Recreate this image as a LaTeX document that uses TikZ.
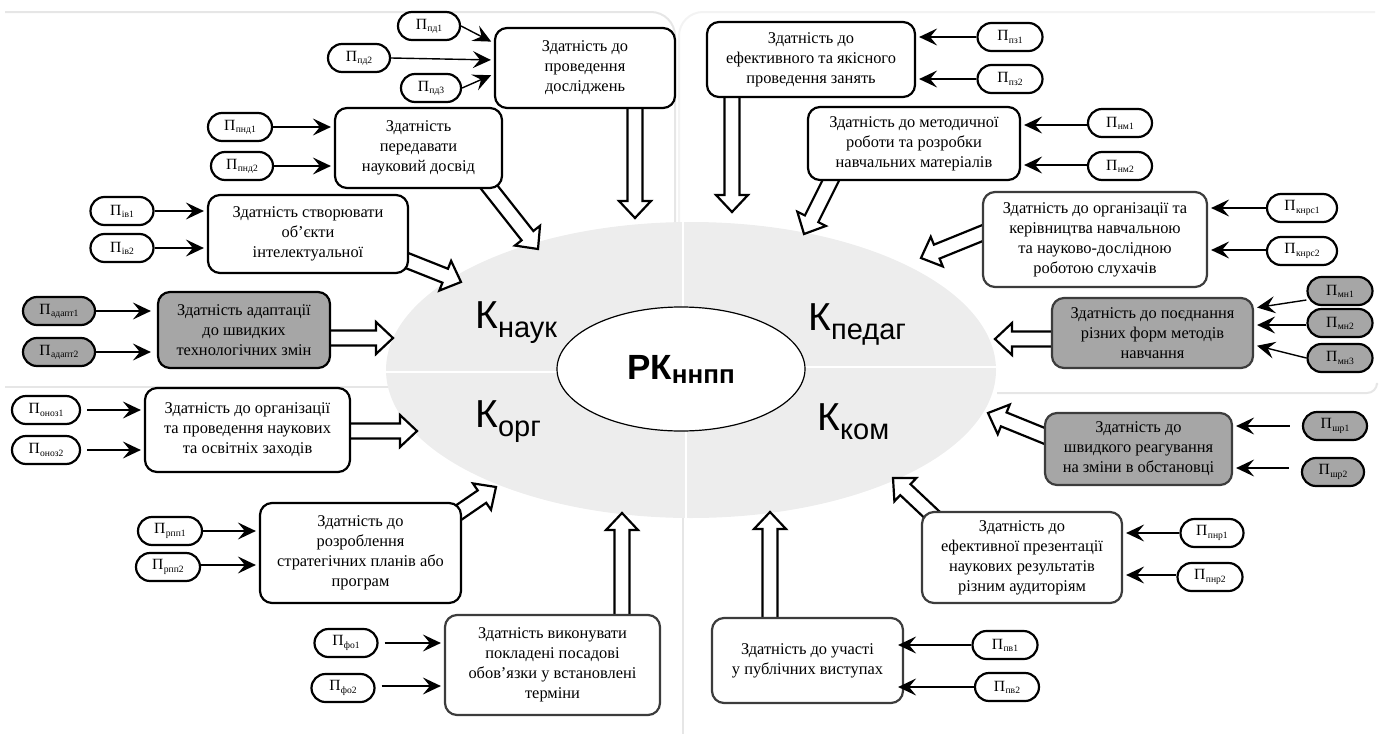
\documentclass[tikz,border=0pt]{standalone}
\usepackage{fontspec}
\setmainfont{Liberation Serif}
\newfontfamily\sansf{Liberation Sans}
\usetikzlibrary{shapes.geometric,arrows.meta,calc}
\pgfdeclarelayer{bglayer}
\pgfdeclarelayer{arrlayer}
\pgfsetlayers{bglayer,arrlayer,main}
\definecolor{boxgray}{RGB}{166,166,166}
\definecolor{ellgray}{RGB}{237,237,237}
\definecolor{framegray}{RGB}{230,230,230}
\definecolor{framegraylt}{RGB}{243,243,243}
\definecolor{darkborder}{RGB}{60,60,60}
\newcommand{\boxfont}{\fontsize{8.2}{10}\selectfont}
\newcommand{\pfont}{\fontsize{7.8}{8}\selectfont}
\newcommand{\Pl}[1]{П\kern0.2pt\raisebox{-1.1pt}{\fontsize{4.8}{5}\selectfont #1}}
\newcommand{\Kl}[1]{К\raisebox{-4.5pt}{\fontsize{14.5}{15}\selectfont #1}}
\newcommand{\hollow}[2]{%
  \coordinate (hb) at ($(#2)!8.5pt!(#1)$);
  \draw[harrow] ($(#1)!3.75pt!90:(#2)$) -- ($(hb)!3.75pt!90:(#2)$) -- ($(hb)!8pt!90:(#2)$) -- (#2)
     -- ($(hb)!8pt!-90:(#2)$) -- ($(hb)!3.75pt!-90:(#2)$) -- ($(#1)!3.75pt!-90:(#2)$);}
\tikzset{
  box/.style={draw, line width=1.1pt, rounded corners=6pt, fill=white, align=center, font=\boxfont, inner sep=0pt},
  gbox/.style={box, fill=boxgray},
  dbox/.style={box, draw=darkborder},
  pill/.style={draw, line width=1.1pt, rounded corners=7pt, fill=white, minimum height=14pt, inner sep=0pt, font=\pfont},
  gpill/.style={pill, fill=boxgray},
  thinarr/.style={line width=0.7pt, shorten >=1.5pt, -{Stealth[length=9pt,width=8.5pt,inset=3.5pt]}},
  harrow/.style={draw, line width=1.1pt, fill=white, line join=miter},
  frame/.style={draw=framegray, line width=1pt},
  klabel/.style={font=\sansf\fontsize{19.5}{20}\selectfont, inner sep=0pt, anchor=base west},
}
\begin{document}
\begin{tikzpicture}[x=0.5pt, y=-0.5pt]
\useasboundingbox (0,0) rectangle (1383,734);

% ---------- background ----------
\begin{pgfonlayer}{bglayer}
  \draw[frame, rounded corners=12pt] (5,12) -- (675,12) -- (675,222);
  \draw[draw=framegraylt, line width=1pt, rounded corners=12pt] (679,222) -- (679,12) -- (1375,12);
  \draw[frame] (5,387) -- (388,387);
  \draw[frame, rounded corners=5pt] (997,393) -- (1377,393) -- (1377,385);
  \draw[frame] (683,518) -- (683,734);
  \fill[ellgray] (691,370) ellipse [x radius=152.5pt, y radius=74pt];
  \begin{scope}
    \clip (691,370) ellipse [x radius=152.5pt, y radius=74pt];
    \draw[white, line width=1.2pt] (380,372) -- (684,372);
    \draw[white, line width=1.2pt] (684,367) -- (1000,367);
    \draw[white, line width=1.2pt] (683,215) -- (683,370);
    \draw[white, line width=1.2pt] (686,368) -- (686,525);
  \end{scope}
\end{pgfonlayer}

% ---------- centre ----------
\node[ellipse, draw, fill=white, line width=0.6pt, minimum width=124pt, minimum height=62pt, inner sep=0pt] (rk) at (681,369)
  {\sansf\bfseries\fontsize{17.5}{18}\selectfont РК\raisebox{-2pt}{\fontsize{13}{14}\selectfont ннпп}};
\node[klabel] (kn) at (475,328) {\Kl{наук}};
\node[klabel] (kp) at (808,330) {\Kl{педаг}};
\node[klabel] (ko) at (475,427) {\Kl{орг}};
\node[klabel] (kk) at (817,430) {\Kl{ком}};

% ---------- boxes ----------
\node[box, minimum width=90pt, minimum height=40pt] (b1) at (585,68) {Здатність до\\проведення\\досліджень};
\node[box, minimum width=83.5pt, minimum height=40pt] (b2) at (418.5,148) {Здатність\\передавати\\науковий досвід};
\node[box, minimum width=100pt, minimum height=39pt] (b3) at (308,234) {Здатність створювати\\об’єкти\\інтелектуальної};
\node[gbox, minimum width=86pt, minimum height=38pt] (b4) at (244,330) {Здатність адаптації\\до швидких\\технологічних змін};
\node[box, minimum width=102.5pt, minimum height=42pt] (b5) at (247.5,430) {Здатність до організації\\та проведення наукових\\та освітніх заходів};
\node[box, minimum width=100.5pt, minimum height=50pt] (b6) at (360.5,553) {Здатність до\\розроблення\\стратегічних планів або\\програм};
\node[dbox, minimum width=107.5pt, minimum height=50pt] (b7) at (552.5,665) {Здатність виконувати\\покладені посадові\\обов’язки у встановлені\\терміни};
\node[dbox, minimum width=95.5pt, minimum height=42.5pt] (b8) at (807.5,660.5) {Здатність до участі\\у публічних виступах};
\node[dbox, minimum width=100pt, minimum height=45.5pt] (b9) at (1022,557.5) {Здатність до\\ефективної презентації\\наукових результатів\\різним аудиторіям};
\node[gbox, draw=darkborder, minimum width=93.5pt, minimum height=36pt] (b10) at (1138.5,449) {Здатність до\\швидкого реагування\\на зміни в обстановці};
\node[gbox, draw=darkborder, minimum width=100.5pt, minimum height=35pt] (b11) at (1152.5,333) {Здатність до поєднання\\різних форм методів\\навчання};
\node[dbox, minimum width=112pt, minimum height=47.5pt] (b12) at (1095,239.5) {Здатність до організації та\\керівництва навчальною\\та науково-дослідною\\роботою слухачів};
\node[box, minimum width=106pt, minimum height=36.5pt] (b13) at (914,143.5) {Здатність до методичної\\роботи та розробки\\навчальних матеріалів};
\node[box, minimum width=104pt, minimum height=37.5pt] (b14) at (811,59.5) {Здатність до\\ефективного та якісного\\проведення занять};

% ---------- indicator pills ----------
\node[pill, minimum width=31pt] (pd1) at (429,26) {\Pl{пд1}};
\node[pill, minimum width=31pt] (pd2) at (359,58) {\Pl{пд2}};
\node[pill, minimum width=30pt] (pd3) at (431,88) {\Pl{пд3}};
\node[pill, minimum width=32pt] (pnd1) at (240,127) {\Pl{пнд1}};
\node[pill, minimum width=31pt] (pnd2) at (242,166) {\Pl{пнд2}};
\node[pill, minimum width=31.5pt] (iv1) at (122,211) {\Pl{ів1}};
\node[pill, minimum width=31.5pt] (iv2) at (122,248) {\Pl{ів2}};
\node[gpill, minimum width=36pt] (ad1) at (59,311) {\Pl{адапт1}};
\node[gpill, minimum width=36pt] (ad2) at (59,352) {\Pl{адапт2}};
\node[pill, minimum width=34pt] (on1) at (46,410) {\Pl{оноз1}};
\node[pill, minimum width=34pt] (on2) at (46,450) {\Pl{оноз2}};
\node[pill, minimum width=32pt] (rp1) at (170,531) {\Pl{рпп1}};
\node[pill, minimum width=32pt] (rp2) at (168,567) {\Pl{рпп2}};
\node[pill, minimum width=31.5pt] (fo1) at (346,643) {\Pl{фо1}};
\node[pill, minimum width=31.5pt] (fo2) at (343,688) {\Pl{фо2}};
\node[pill, minimum width=32.5pt] (pv1) at (1005,645) {\Pl{пв1}};
\node[pill, minimum width=32pt] (pv2) at (1007,687) {\Pl{пв2}};
\node[pill, minimum width=31.5pt] (pr1) at (1212,533) {\Pl{пнр1}};
\node[pill, minimum width=32.5pt] (pr2) at (1210,577) {\Pl{пнр2}};
\node[gpill, minimum width=32pt] (sr1) at (1335,426) {\Pl{шр1}};
\node[gpill, minimum width=31pt] (sr2) at (1333,472) {\Pl{шр2}};
\node[gpill, minimum width=32.5pt] (mn1) at (1340,291) {\Pl{мн1}};
\node[gpill, minimum width=32.5pt] (mn2) at (1340,323) {\Pl{мн2}};
\node[gpill, minimum width=32.5pt] (mn3) at (1340,358) {\Pl{мн3}};
\node[pill, minimum width=35pt] (kr1) at (1302,208) {\Pl{кнрс1}};
\node[pill, minimum width=35pt] (kr2) at (1302,251) {\Pl{кнрс2}};
\node[pill, minimum width=32pt] (nm1) at (1120,123) {\Pl{нм1}};
\node[pill, minimum width=32pt] (nm2) at (1120,166) {\Pl{нм2}};
\node[pill, minimum width=32.5pt] (pz1) at (1010,37) {\Pl{пз1}};
\node[pill, minimum width=32.5pt] (pz2) at (1010,79) {\Pl{пз2}};

% ---------- thin arrows ----------
\draw[thinarr] (pd1.east) -- ([yshift=12.5pt]b1.west);
\draw[thinarr] (pd2.east) -- ([yshift=4pt]b1.west);
\draw[thinarr] (pd3.east) -- ([yshift=-3pt]b1.west);
\draw[thinarr] (pnd1.east) -- (pnd1.east -| b2.west);
\draw[thinarr] (pnd2.east) -- (pnd2.east -| b2.west);
\draw[thinarr] (iv1.east) -- (iv1.east -| b3.west);
\draw[thinarr] (iv2.east) -- (iv2.east -| b3.west);
\draw[thinarr, shorten >=3pt] (ad1.east) -- (ad1.east -| b4.west);
\draw[thinarr, shorten >=3pt] (ad2.east) -- (ad2.east -| b4.west);
\draw[thinarr, shorten <=3pt] (on1.east) -- (on1.east -| b5.west);
\draw[thinarr, shorten <=3pt] (on2.east) -- (on2.east -| b5.west);
\draw[thinarr] (rp1.east) -- (rp1.east -| b6.west);
\draw[thinarr] ([yshift=1pt]rp2.east) -- ([yshift=1pt]rp2.east -| b6.west);
\draw[thinarr, shorten <=3pt] (fo1.east) -- (fo1.east -| b7.west);
\draw[thinarr, shorten <=3pt] ([yshift=1pt]fo2.east) -- ([yshift=1pt]fo2.east -| b7.west);
\draw[thinarr, shorten >=-3pt] (pv1.west) -- (pv1.west -| b8.east);
\draw[thinarr, shorten >=-3pt] (pv2.west) -- (pv2.west -| b8.east);
\draw[thinarr] (pr1.west) -- (pr1.west -| b9.east);
\draw[thinarr] ([yshift=1pt]pr2.west) -- ([yshift=1pt]pr2.west -| b9.east);
\draw[thinarr, shorten <=6pt] (sr1.west) -- (sr1.west -| b10.east);
\draw[thinarr, shorten <=6pt] ([yshift=2pt]sr2.west) -- ([yshift=2pt]sr2.west -| b10.east);
\draw[thinarr] ([yshift=-4.5pt]mn1.west) -- ([yshift=12.5pt]b11.east);
\draw[thinarr] ([yshift=-1pt]mn2.west) -- ([yshift=4pt]b11.east);
\draw[thinarr] (mn3.west) -- ([yshift=-6pt]b11.east);
\draw[thinarr] (kr1.west) -- (kr1.west -| b12.east);
\draw[thinarr] ([yshift=0.5pt]kr2.west) -- ([yshift=0.5pt]kr2.west -| b12.east);
\draw[thinarr] ([yshift=-1pt]nm1.west) -- ([yshift=-1pt]nm1.west -| b13.east);
\draw[thinarr] ([yshift=0.5pt]nm2.west) -- ([yshift=0.5pt]nm2.west -| b13.east);
\draw[thinarr] (pz1.west) -- (pz1.west -| b14.east);
\draw[thinarr] (pz2.west) -- (pz2.west -| b14.east);

% ---------- hollow arrows ----------
\coordinate (h1) at (635,218);
\coordinate (h2) at (538,249);
\coordinate (h3) at (461,282);
\coordinate (h4) at (393,338);
\coordinate (h5) at (417,431);
\coordinate (h6) at (496,487);
\coordinate (h7) at (622,513);
\coordinate (h8) at (770,512);
\coordinate (h9) at (893,478);
\coordinate (h10) at (988,413);
\coordinate (h11) at (995,339);
\coordinate (h12) at (921,258);
\coordinate (h13) at (804,234);
\coordinate (h14) at (732,212);
\begin{pgfonlayer}{arrlayer}
  \coordinate (t1) at ($(b1)+(50,25)$);      \hollow{t1}{h1}
  \coordinate (t2) at ($(b2)+(63.5,30)$);    \hollow{t2}{h2}
  \coordinate (t3) at ($(b3)+(85,21)$);      \hollow{t3}{h3}
  \coordinate (t4) at ($(b4)+(76,8)$);       \hollow{t4}{h4}
  \coordinate (t5) at ($(b5)+(92.5,1)$);     \hollow{t5}{h5}
  \coordinate (t6) at ($(b6)+(81.5,-29)$);   \hollow{t6}{h6}
  \coordinate (t7) at ($(b7)+(69.5,-40)$);   \hollow{t7}{h7}
  \coordinate (t8) at ($(b8)+(-37.5,-32.5)$);\hollow{t8}{h8}
  \coordinate (t9) at ($(b9)+(-77,-30.5)$);  \hollow{t9}{h9}
  \coordinate (t10) at ($(b10)+(-81.5,-8)$); \hollow{t10}{h10}
  \coordinate (t11) at ($(b11)+(-90.5,6)$);  \hollow{t11}{h11}
  \coordinate (t12) at ($(b12)+(-100,-11.5)$);\hollow{t12}{h12}
  \coordinate (t13) at ($(b13)+(-77,24.5)$); \hollow{t13}{h13}
  \coordinate (t14) at ($(b14)+(-79,27.5)$); \hollow{t14}{h14}
\end{pgfonlayer}
\end{tikzpicture}
\end{document}
